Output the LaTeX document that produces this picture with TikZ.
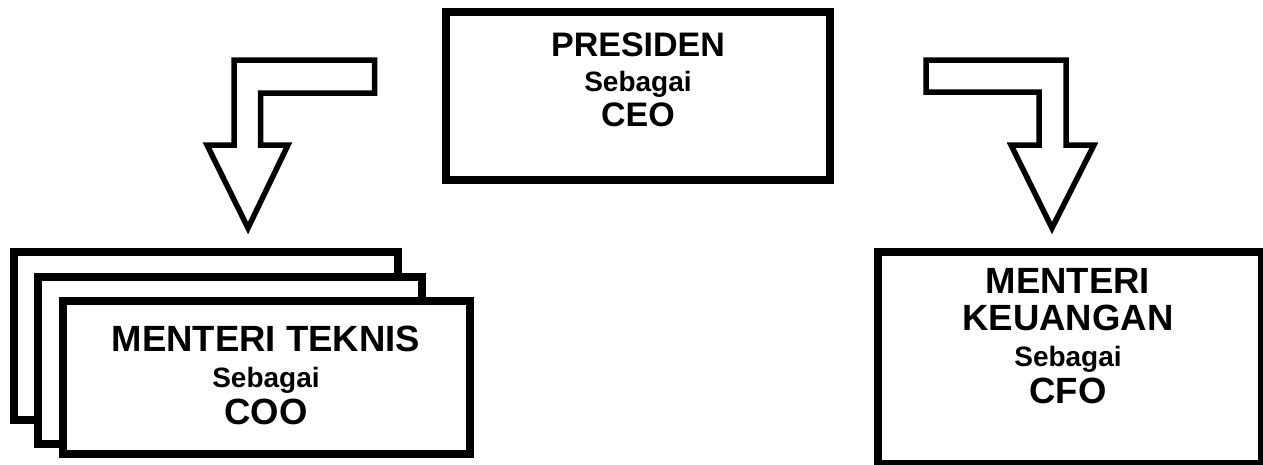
\documentclass[tikz,border=0pt]{standalone}
\usepackage{fontspec}
\setmainfont{Liberation Sans}
\usepackage{tikz}

\begin{document}
\begin{tikzpicture}[x=1pt, y=-1pt,
    orgbox/.style={draw, line width=8pt, fill=white, inner sep=0pt},
    bentarrow/.style={draw, line width=5.5pt, line join=miter, fill=white},
    boxtext/.style={align=center, inner sep=0pt,
        font=\bfseries\fontsize{34}{35}\selectfont},
    bigtext/.style={boxtext, font=\bfseries\fontsize{36.5}{36.5}\selectfont}]
    \useasboundingbox (0,0) rectangle (1263,464);
    \def\sebagai{{\fontsize{28}{35}\selectfont Sebagai}}

    % Top box: president
    \node[orgbox, minimum width=383.5pt, minimum height=168pt] (ceo) at (637.75,96) {};
    \node[boxtext] (ceotext) at (638,80) {PRESIDEN\\ \sebagai\\ CEO};

    % Stacked boxes on the left (technical ministers)
    \node[orgbox, minimum width=384pt, minimum height=168pt] (cooback) at (206,336) {};
    \node[orgbox, minimum width=384pt, minimum height=167.5pt] (coomid) at (229.5,360.25) {};
    \node[orgbox, minimum width=407.5pt, minimum height=153pt] (coo) at (266.25,377.5) {};
    \node[bigtext] (cootext) at (266,375) {MENTERI TEKNIS\\ \sebagai\\ COO};

    % Right box: finance minister
    \node[orgbox, minimum width=384.5pt, minimum height=212pt] (cfo) at (1069.75,358) {};
    \node[bigtext] (cfotext) at (1068,336) {MENTERI\\ KEUANGAN\\ \sebagai\\ CFO};

    % Bent block arrow going down to the left
    \draw[bentarrow] (374.5,60) -- (234,60) -- (234,145) -- (207,145) -- (248,228)
        -- (288,145) -- (260.5,145) -- (260.5,93) -- (374.5,93) -- cycle;

    % Bent block arrow going down to the right
    \draw[bentarrow] (926,60) -- (1066,60) -- (1066,145) -- (1094,145) -- (1052,228)
        -- (1011,145) -- (1039,145) -- (1039,92) -- (926,92) -- cycle;
\end{tikzpicture}
\end{document}
